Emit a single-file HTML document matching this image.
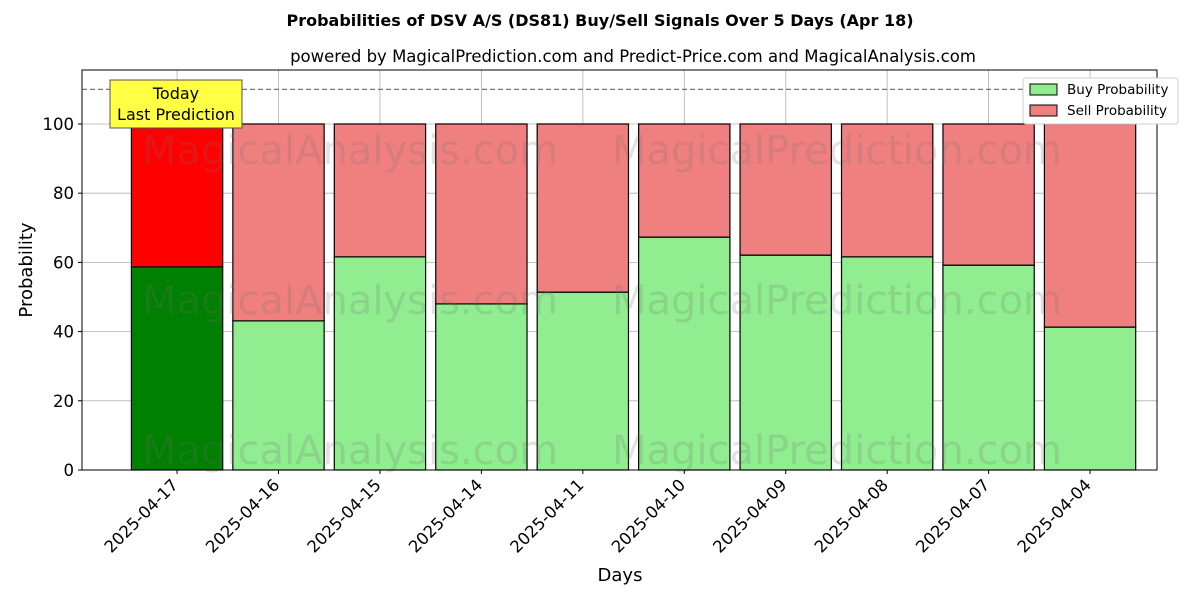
<!DOCTYPE html>
<html><head><meta charset="utf-8">
<style>
body{margin:0;background:#fff;font-family:"Liberation Sans","DejaVu Sans",sans-serif;}
svg text{font-family:"DejaVu Sans","Liberation Sans",sans-serif;}
</style></head>
<body>
<svg id="chart" width="1200" height="600" viewBox="0 0 1200 600" xmlns="http://www.w3.org/2000/svg"></svg>
<script>
const categories=["2025-04-17","2025-04-16","2025-04-15","2025-04-14","2025-04-11","2025-04-10","2025-04-09","2025-04-08","2025-04-07","2025-04-04"];
const buyValues=[58.7,43.1,61.6,48.0,51.4,67.3,62.1,61.6,59.2,41.3];
const sellValues=buyValues.map(v=>100-v);
const yTicks=[0,20,40,60,80,100];

const NS="http://www.w3.org/2000/svg";
const svg=document.getElementById('chart');
const L=82,R=1157,T=70,B=470;
const xMin=-0.937,xMax=9.66,yMax=115.6;
const xs=i=>L+(i-xMin)/(xMax-xMin)*(R-L);
const ys=v=>B-v/yMax*(B-T);
const bw=0.9*(R-L)/(xMax-xMin);
function mk(tag,attrs,text){const e=document.createElementNS(NS,tag);for(const k in attrs)e.setAttribute(k,attrs[k]);if(text!==undefined)e.textContent=text;svg.appendChild(e);return e;}

let e;
e=mk('text',{x:600,y:26,'text-anchor':'middle','font-size':16,'font-weight':'bold'},'Probabilities of DSV A/S (DS81) Buy/Sell Signals Over 5 Days (Apr 18)');

e=mk('text',{x:633,y:62,'text-anchor':'middle','font-size':16.5},'powered by MagicalPrediction.com and Predict-Price.com and MagicalAnalysis.com');


yTicks.forEach(t=>{e=mk('line',{x1:L,x2:R,y1:ys(t),y2:ys(t),stroke:'#b0b0b0','stroke-width':0.8});
});
categories.forEach((c,i)=>{e=mk('line',{x1:xs(i),x2:xs(i),y1:T,y2:B,stroke:'#b0b0b0','stroke-width':0.8});
});

categories.forEach((c,i)=>{
  const x=xs(i)-bw/2;
  e=mk('rect',{x:x,y:ys(buyValues[i]),width:bw,height:ys(0)-ys(buyValues[i]),fill:i===0?'#008000':'#90ee90',stroke:'#000','stroke-width':1.2});
  
  e=mk('rect',{x:x,y:ys(100),width:bw,height:ys(buyValues[i])-ys(100),fill:i===0?'#ff0000':'#f08080',stroke:'#000','stroke-width':1.2});
  
});

[[350,150,'MagicalAnalysis.com'],[837,150,'MagicalPrediction.com'],[350,300,'MagicalAnalysis.com'],[837,300,'MagicalPrediction.com'],[350,450,'MagicalAnalysis.com'],[837,450,'MagicalPrediction.com']].forEach(w=>{
  e=mk('text',{x:w[0],y:w[1]+14,'text-anchor':'middle','font-size':40,fill:'rgba(110,110,110,0.2)'},w[2]);
  
});

e=mk('line',{x1:L,x2:R,y1:ys(110),y2:ys(110),stroke:'#777','stroke-width':1.2,'stroke-dasharray':'5,3'});


e=mk('rect',{x:L,y:T,width:R-L,height:B-T,fill:'none',stroke:'#000','stroke-width':1});


yTicks.forEach(t=>{
  mk('line',{x1:L-4,x2:L,y1:ys(t),y2:ys(t),stroke:'#000'});
  e=mk('text',{x:L-8,y:ys(t)+6,'text-anchor':'end','font-size':16.5},String(t));
  
});
categories.forEach((c,i)=>{
  mk('line',{x1:xs(i),x2:xs(i),y1:B,y2:B+4,stroke:'#000'});
  e=mk('text',{x:xs(i)+2,y:B+16,'text-anchor':'end','font-size':16.5,transform:`rotate(-45 ${xs(i)+2} ${B+16})`},c);
  
});
e=mk('text',{x:620,y:581,'text-anchor':'middle','font-size':18},'Days');

e=mk('text',{x:32,y:270,'text-anchor':'middle','font-size':18,transform:'rotate(-90 32 270)'},'Probability');


e=mk('rect',{x:110,y:80,width:132,height:48,fill:'#ffff44',stroke:'#555','stroke-width':1});

e=mk('text',{x:176,y:99,'text-anchor':'middle','font-size':16},'Today');

e=mk('text',{x:176,y:120,'text-anchor':'middle','font-size':16},'Last Prediction');


e=mk('rect',{x:1023,y:78,width:155,height:46,fill:'#fff',stroke:'#ccc',rx:3});

e=mk('rect',{x:1030,y:84,width:27,height:11,fill:'#90ee90',stroke:'#000'});

e=mk('text',{x:1067,y:94,'font-size':13.5},'Buy Probability');

e=mk('rect',{x:1030,y:105,width:27,height:11,fill:'#f08080',stroke:'#000'});

e=mk('text',{x:1067,y:115,'font-size':13.5},'Sell Probability');

</script>
</body></html>
